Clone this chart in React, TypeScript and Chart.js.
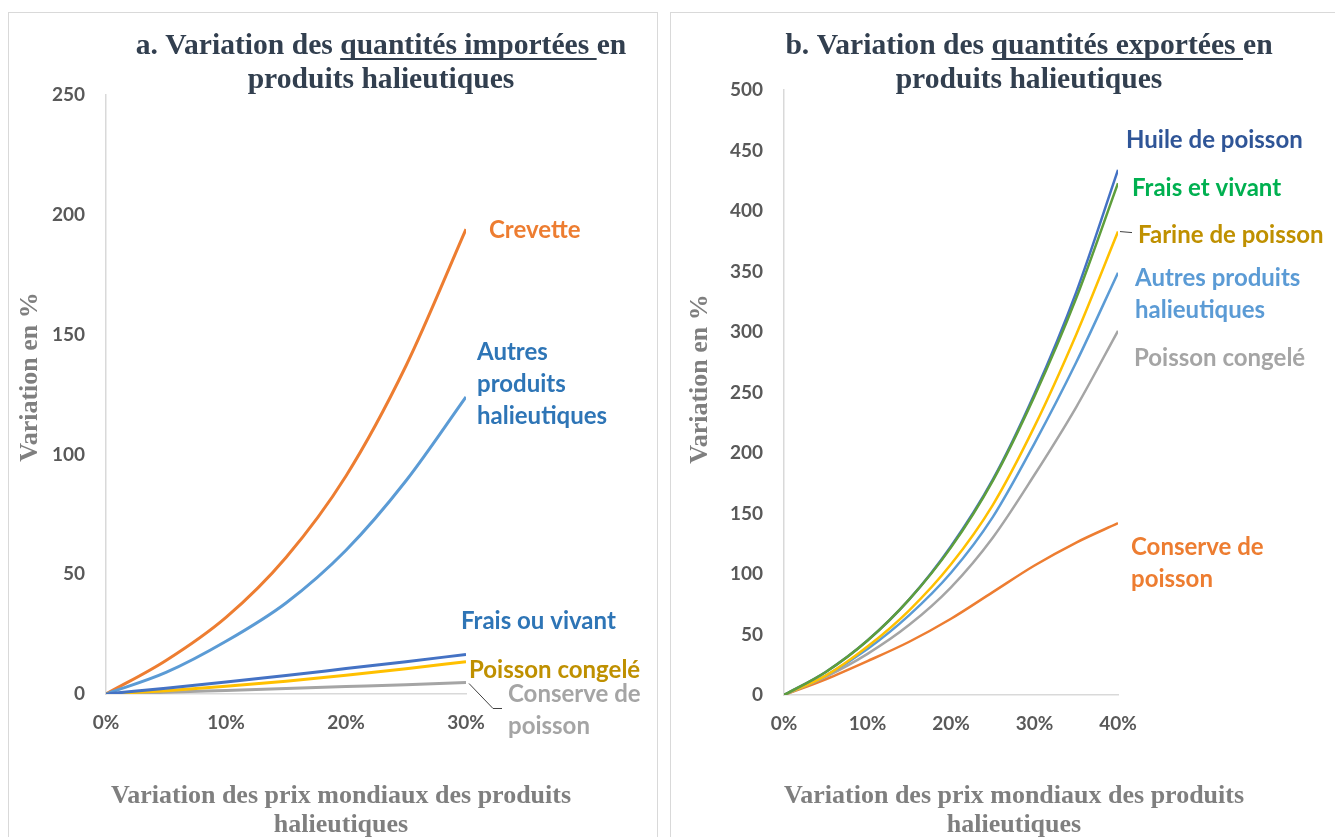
import React, { useEffect, useRef } from "react";
import { Chart, registerables } from "chart.js";

Chart.register(...registerables);

// ---------- DATA ----------
// Panel a: imports (x = world price variation)
const importX = [0, 0.05, 0.1, 0.15, 0.2, 0.25, 0.3];
const impCrevette = [0, 14, 32, 57, 91, 137, 194];
const impAutres = [0, 9, 22, 38, 60, 89, 124];
const impFrais = [0, 2.4, 5, 7.7, 10.6, 13.5, 16.5];
const impCongele = [0, 1.4, 3.2, 5.3, 7.8, 10.5, 13.5];
const impConserve = [0, 0.7, 1.5, 2.3, 3.1, 3.9, 4.8];

// Panel b: exports
const exportX = [0, 0.05, 0.1, 0.15, 0.2, 0.25, 0.3, 0.35, 0.4];
const expHuile = [0, 19, 45, 79, 123, 178, 249, 333, 434];
const expFrais = [0, 19, 45, 79, 122, 177, 247, 328, 423];
const expFarine = [0, 16, 40, 70, 108, 157, 222, 298, 383];
const expAutres = [0, 16, 38, 66, 101, 147, 208, 275, 349];
const expCongele = [0, 15, 34, 58, 89, 130, 182, 238, 301];
const expConserve = [0, 13, 28, 44, 63, 85, 107, 126, 142];

const importYMax = 250;
const exportYMax = 500;
const yStep = 50;
const xStep = 0.1;

// ---------- STYLE ----------
const SERIF = '"Liberation Serif", "Times New Roman", serif';
const SANS = 'Lato, "Open Sans", sans-serif';
const TITLE_COLOR = "#323F4F";
const AXIS_TITLE_COLOR = "#7F7F7F";
const TICK_COLOR = "#595959";

type LabelSpec = {
  lines: string[];
  color: string;
  dx: number;
  dy: number;
  leader?: [number, number][];
};

type PanelText = {
  titleLines: string[];
  underline: string;
  titleCx: number;
  titleY: number[];
  yTitle: string;
  yTitleX: number;
  yTitleY: number;
  xTitleLines: string[];
  xTitleCx: number;
  xTitleY: number[];
  labels: LabelSpec[];
};

const panelTextPlugin = {
  id: "panelText",
  afterDraw(chart: any, _args: any, opts: PanelText) {
    const ctx: CanvasRenderingContext2D = chart.ctx;
    ctx.save();
    // Title
    ctx.font = `bold 29.6px ${SERIF}`;
    ctx.fillStyle = TITLE_COLOR;
    ctx.textBaseline = "alphabetic";
    ctx.textAlign = "left";
    opts.titleLines.forEach((line, i) => {
      const w = ctx.measureText(line).width;
      const x0 = opts.titleCx - w / 2;
      ctx.fillText(line, x0, opts.titleY[i]);
      const idx = line.indexOf(opts.underline);
      if (idx >= 0) {
        const pre = ctx.measureText(line.slice(0, idx)).width;
        const uw = ctx.measureText(opts.underline).width;
        ctx.fillRect(x0 + pre, opts.titleY[i] + 4, uw, 2);
      }
    });
    // Y title
    ctx.font = `bold 26px ${SERIF}`;
    ctx.fillStyle = AXIS_TITLE_COLOR;
    ctx.save();
    ctx.translate(opts.yTitleX, opts.yTitleY);
    ctx.rotate(-Math.PI / 2);
    ctx.textAlign = "center";
    ctx.textBaseline = "middle";
    ctx.fillText(opts.yTitle, 0, 0);
    ctx.restore();
    // X title
    ctx.textAlign = "center";
    ctx.textBaseline = "alphabetic";
    opts.xTitleLines.forEach((line, i) => {
      ctx.fillText(line, opts.xTitleCx, opts.xTitleY[i]);
    });
    // Series labels
    ctx.font = `bold 24px ${SANS}`;
    ctx.textAlign = "left";
    opts.labels.forEach((lab, di) => {
      const meta = chart.getDatasetMeta(di);
      const pts = meta.data;
      const last = pts[pts.length - 1];
      if (!last) return;
      const px = last.x;
      const py = last.y;
      if (lab.leader) {
        ctx.strokeStyle = "#404040";
        ctx.lineWidth = 1;
        ctx.beginPath();
        lab.leader.forEach(([lx, ly], k) => {
          if (k === 0) ctx.moveTo(px + lx, py + ly);
          else ctx.lineTo(px + lx, py + ly);
        });
        ctx.stroke();
      }
      ctx.fillStyle = lab.color;
      lab.lines.forEach((l, k) => {
        ctx.fillText(l, px + lab.dx, py + lab.dy + k * 32);
      });
    });
    ctx.restore();
  },
};

function makeSeries(xs: number[], ys: number[]) {
  return xs.map((x, i) => ({ x, y: ys[i] }));
}

type SeriesDef = { data: number[]; color: string };

function buildConfig(
  xs: number[],
  series: SeriesDef[],
  xMax: number,
  yMax: number,
  yAxisWidth: number,
  padding: any,
  lineWidth: number,
  text: PanelText
) {
  return {
    type: "line",
    data: {
      datasets: series.map((s) => ({
        data: makeSeries(xs, s.data),
        borderColor: s.color,
        backgroundColor: s.color,
        borderWidth: lineWidth,
        pointRadius: 0,
        cubicInterpolationMode: "monotone",
        fill: false,
      })),
    },
    options: {
      responsive: false,
      animation: false,
      layout: { padding },
      plugins: {
        legend: { display: false },
        tooltip: { enabled: false },
        title: { display: false },
        panelText: text,
      },
      scales: {
        x: {
          type: "linear",
          min: 0,
          max: xMax,
          grid: { display: false, drawTicks: false },
          border: { display: true, color: "#D9D9D9", width: 1.5 },
          ticks: {
            stepSize: xStep,
            padding: 17,
            color: TICK_COLOR,
            font: { family: SANS, size: 19, weight: "bold" },
            maxRotation: 0,
            callback: (v: number) => `${Math.round(v * 100)}%`,
          },
          afterFit: (scale: any) => {
            scale.height = 60;
          },
        },
        y: {
          type: "linear",
          min: 0,
          max: yMax,
          grid: { display: false, drawTicks: false },
          border: { display: true, color: "#D9D9D9", width: 1.5 },
          ticks: {
            stepSize: yStep,
            padding: 21,
            color: TICK_COLOR,
            font: { family: SANS, size: 19, weight: "bold" },
          },
          afterFit: (scale: any) => {
            scale.width = yAxisWidth;
          },
        },
      },
    },
    plugins: [panelTextPlugin],
  };
}

const leftText: PanelText = {
  titleLines: ["a. Variation des quantités importées en", "produits halieutiques"],
  underline: "quantités importées ",
  titleCx: 372,
  titleY: [41, 75],
  yTitle: "Variation en %",
  yTitleX: 21,
  yTitleY: 364,
  xTitleLines: ["Variation des prix mondiaux des produits", "halieutiques"],
  xTitleCx: 332,
  xTitleY: [790, 819],
  labels: [
    { lines: ["Frais ou vivant"], color: "#2E75B6", dx: -5, dy: -25 },
    { lines: ["Poisson congelé"], color: "#BF9000", dx: 3, dy: 16 },
    { lines: ["Conserve de", "poisson"], color: "#A5A5A5", dx: 42, dy: 20, leader: [[3, 1], [27, 26], [36, 26]] },
    { lines: ["Autres", "produits", "halieutiques"], color: "#2E75B6", dx: 11, dy: -37 },
    { lines: ["Crevette"], color: "#ED7D31", dx: 23, dy: 9 },
  ],
};

const rightText: PanelText = {
  titleLines: ["b. Variation des quantités exportées en", "produits halieutiques"],
  underline: "quantités exportées ",
  titleCx: 358,
  titleY: [41, 75],
  yTitle: "Variation en %",
  yTitleX: 29,
  yTitleY: 366,
  xTitleLines: ["Variation des prix mondiaux des produits", "halieutiques"],
  xTitleCx: 343,
  xTitleY: [790, 819],
  labels: [
    { lines: ["Frais et vivant"], color: "#00B050", dx: 14, dy: 13 },
    { lines: ["Huile de poisson"], color: "#2F5597", dx: 8, dy: -22 },
    { lines: ["Farine de poisson"], color: "#BF9000", dx: 20, dy: 11, leader: [[2, 0], [14, 1]] },
    { lines: ["Autres produits", "halieutiques"], color: "#5B9BD5", dx: 17, dy: 13 },
    { lines: ["Poisson congelé"], color: "#A5A5A5", dx: 16, dy: 35 },
    { lines: ["Conserve de", "poisson"], color: "#ED7D31", dx: 13, dy: 32 },
  ],
};

function Panel(props: { left: number; width: number; canvasW: number; build: () => any }) {
  const ref = useRef<HTMLCanvasElement | null>(null);
  useEffect(() => {
    if (!ref.current) return;
    const chart = new Chart(ref.current, props.build());
    return () => chart.destroy();
  }, []);
  return (
    <div
      style={{
        position: "absolute",
        left: props.left,
        top: 4,
        width: props.width,
        height: 900,
        border: "1px solid #D9D9D9",
        boxSizing: "border-box",
        background: "#fff",
      }}
    >
      <canvas ref={ref} width={props.canvasW} height={824} style={{ display: "block" }} />
    </div>
  );
}

export default function App() {
  return (
    <div style={{ position: "relative", width: 1327, height: 829, overflow: "hidden" }}>
      <Panel
        left={0}
        width={650}
        canvasW={648}
        build={() =>
          buildConfig(
            importX,
            [
              { data: impFrais, color: "#4472C4" },
              { data: impCongele, color: "#FFC000" },
              { data: impConserve, color: "#A5A5A5" },
              { data: impAutres, color: "#5B9BD5" },
              { data: impCrevette, color: "#ED7D31" },
            ],
            0.3,
            importYMax,
            97,
            { top: 82, right: 191, bottom: 83, left: 0 },
            3,
            leftText
          )
        }
      />
      <Panel
        left={662}
        width={680}
        canvasW={678}
        build={() =>
          buildConfig(
            exportX,
            [
              { data: expFrais, color: "#5E9E3C" },
              { data: expHuile, color: "#4472C4" },
              { data: expFarine, color: "#FFC000" },
              { data: expAutres, color: "#5B9BD5" },
              { data: expCongele, color: "#A5A5A5" },
              { data: expConserve, color: "#ED7D31" },
            ],
            0.4,
            exportYMax,
            113,
            { top: 77, right: 231, bottom: 82, left: 0 },
            2.5,
            rightText
          )
        }
      />
    </div>
  );
}
